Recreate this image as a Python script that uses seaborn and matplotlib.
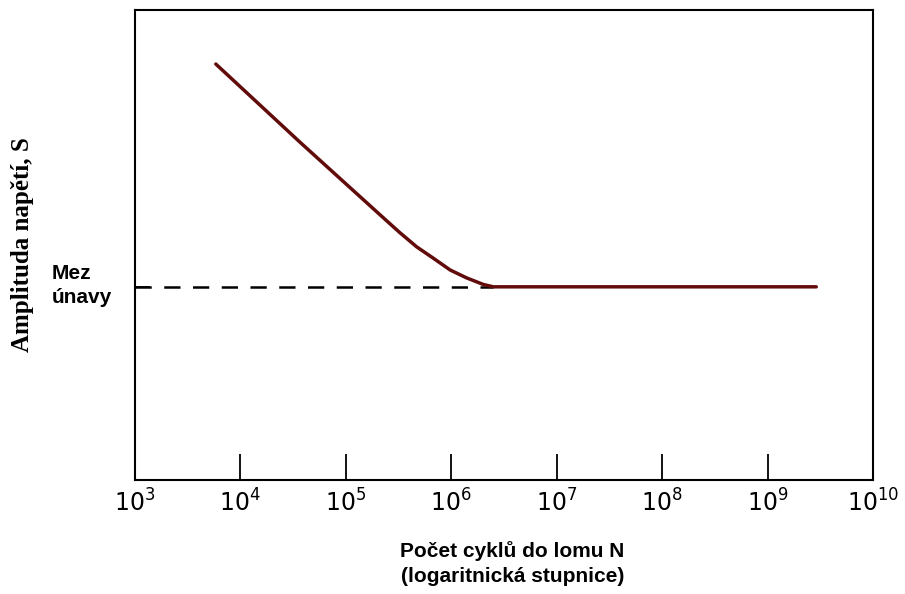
import matplotlib
matplotlib.use("Agg")
import matplotlib.pyplot as plt
import pandas as pd
import seaborn as sns

# S-N (Wöhler) curve: number of cycles to failure vs. stress amplitude (relative units)
cycles = [5.86e3, 3.67e4, 1.58e5, 2.27e5, 3.27e5, 4.71e5, 6.76e5, 9.75e5,
          1.40e6, 2.02e6, 2.51e6, 2.9e9]
amplitude = [0.885, 0.719, 0.590, 0.558, 0.526, 0.496, 0.472, 0.447,
             0.430, 0.416, 0.411, 0.411]
fatigue_limit = 0.411
limit_end = 2.51e6
x_ticks = [1e3, 1e4, 1e5, 1e6, 1e7, 1e8, 1e9, 1e10]
x_tick_labels = [r"$10^{3}$", r"$10^{4}$", r"$10^{5}$", r"$10^{6}$",
                 r"$10^{7}$", r"$10^{8}$", r"$10^{9}$", r"$10^{10}$"]

sns.set_style("white")
plt.rcParams["font.family"] = ["Liberation Sans", "DejaVu Sans"]
plt.rcParams["text.color"] = "black"

fig = plt.figure(figsize=(9.05, 5.94), dpi=100)
ax = fig.add_axes([0.149, 0.1919, 0.8156, 0.7913])

df = pd.DataFrame({"N": cycles, "S": amplitude})
sns.lineplot(data=df, x="N", y="S", ax=ax, color="#620b0b", linewidth=2.5,
             sort=False, estimator=None)

# dashed fatigue-limit line
ax.plot([1e3, limit_end], [fatigue_limit, fatigue_limit], color="black",
        linewidth=1.8, dashes=(6.5, 5.0), zorder=1)

ax.set_xscale("log")
ax.set_xlim(1e3, 1e10)
ax.set_ylim(0, 1)

ax.set_xticks(x_ticks)
ax.set_xticklabels(x_tick_labels, fontsize=17, family="DejaVu Sans")
ax.xaxis.set_minor_locator(matplotlib.ticker.NullLocator())
ax.tick_params(axis="x", direction="in", length=19, width=1.3, color="black",
               labelcolor="black", bottom=True, pad=7)

ax.set_yticks([fatigue_limit])
ax.set_yticklabels([""])
ax.tick_params(axis="y", direction="in", length=11, width=1.3, color="black", left=True)

for side in ["left", "right", "top", "bottom"]:
    ax.spines[side].set_color("black")
    ax.spines[side].set_linewidth(1.5)

ax.set_xlabel("")
ax.set_ylabel("")

fig.text(0.025, 0.5875, "Amplituda napětí, S", rotation=90, ha="center", va="center",
         fontsize=18, fontweight="bold", family="Liberation Serif")
fig.text(0.057, 0.519, "Mez\núnavy", ha="left", va="center",
         fontsize=15, fontweight="bold", linespacing=1.35)
fig.text(0.566, 0.052, "Počet cyklů do lomu N\n(logaritnická stupnice)",
         ha="center", va="center", fontsize=15, fontweight="bold", linespacing=1.4)

fig.savefig("out.png", dpi=100, facecolor="white")
